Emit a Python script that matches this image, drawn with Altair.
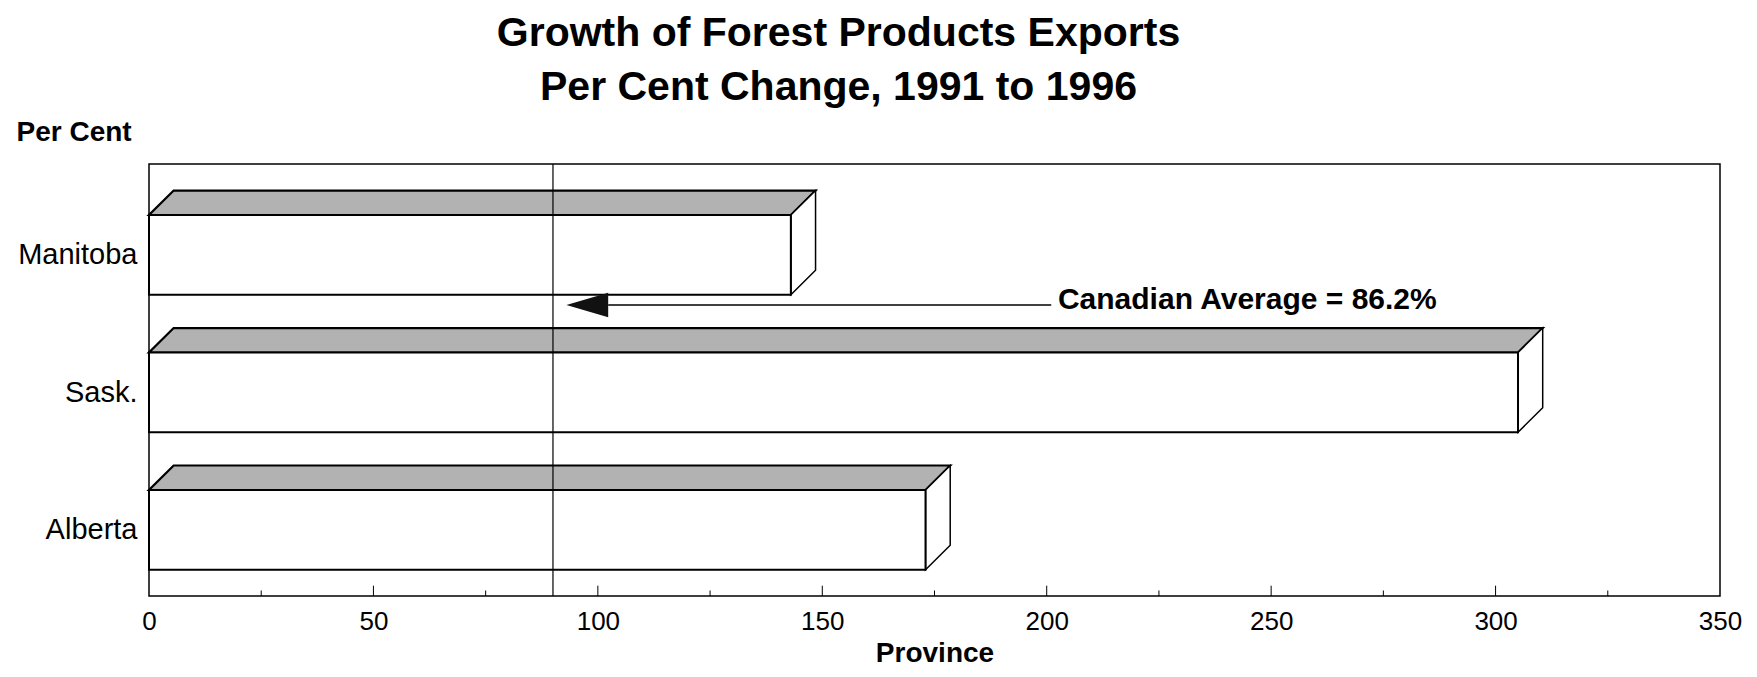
import json
import altair as alt
import pandas as pd

# ---- data ----
provinces = ["Manitoba", "Sask.", "Alberta"]
growth = [143, 305, 173]
tick_values = [0, 50, 100, 150, 200, 250, 300, 350]
minor_ticks = [25, 75, 125, 175, 225, 275, 325]
avg_line = 90
avg_label = "Canadian Average = 86.2%"
arrow_tail = 201
arrow_base = 102.3
arrow_tip = 93

# ---- 3D styling (sizes in scale units) ----
DX = 5.5      # horizontal depth
DY = 0.178    # vertical depth
H = 0.58      # front face height
Y0, Y1 = -0.371, 2.771
ARROW_Y = 0.655
ARROW_HALF = 0.089
TEXT_Y = 0.618

FONT = "Liberation Sans"

front_rows, top_rows, side_rows = [], [], []
for i, (p, v) in enumerate(zip(provinces, growth)):
    front_rows.append(dict(province=p, x=0, x2=v, y=i, y2=i + H))
    top_rows.append(dict(province=p, y=i, x=0, x2=v))
    top_rows.append(dict(province=p, y=i - DY, x=DX, x2=v + DX))
    side_rows.append(dict(province=p, x=v, y=i, y2=i + H))
    side_rows.append(dict(province=p, x=v + DX, y=i - DY, y2=i + H - DY))

front_df = pd.DataFrame(front_rows)
top_df = pd.DataFrame(top_rows)
side_df = pd.DataFrame(side_rows)

xscale = alt.Scale(domain=[0, 350], nice=False, zero=False)
yscale = alt.Scale(domain=[Y0, Y1], nice=False, zero=False, reverse=True)

xaxis = alt.Axis(values=tick_values, grid=False, ticks=False, domain=False,
                 labelFontSize=26, labelFont=FONT, labelColor="black",
                 labelPadding=12, labelFlush=False,
                 titleFontSize=28, titleFont=FONT, titleFontWeight="bold",
                 titleColor="black", titlePadding=5)
yaxis = alt.Axis(values=[i + H / 2 for i in range(len(provinces))],
                 labelExpr=json.dumps(provinces) + "[floor(datum.value)]",
                 grid=False, ticks=False, domain=False,
                 labelFontSize=29, labelFont=FONT, labelColor="black",
                 labelPadding=12,
                 titleAngle=0, titleAlign="left", titleBaseline="middle",
                 titleX=-133, titleY=-32,
                 titleFontSize=28, titleFont=FONT, titleFontWeight="bold",
                 titleColor="black")

X = alt.X("x:Q", scale=xscale, axis=xaxis, title="Province")
Y = alt.Y("y:Q", scale=yscale, axis=yaxis, title="Per Cent")

top = alt.Chart(top_df).mark_area(orient="horizontal", fill="#b2b2b2",
                                  stroke="black", strokeWidth=2.2).encode(
    y=Y, x=X, x2="x2:Q", detail="province:N")

side = alt.Chart(side_df).mark_area(orient="vertical", fill="white",
                                    stroke="black", strokeWidth=1.5).encode(
    x=X, y=Y, y2="y2:Q", detail="province:N")

front = alt.Chart(front_df).mark_rect(fill="white", stroke="black",
                                      strokeWidth=2).encode(
    x=X, x2="x2:Q", y=Y, y2="y2:Q")

avg_df = pd.DataFrame({"x": [avg_line]})
avg = alt.Chart(avg_df).mark_rule(color="black", strokeWidth=1.2).encode(x=X)

arrow_line_df = pd.DataFrame({"x": [arrow_base], "x2": [arrow_tail], "y": [ARROW_Y]})
arrow_line = alt.Chart(arrow_line_df).mark_rule(color="black", strokeWidth=1.5).encode(
    x=X, x2="x2:Q", y=Y)

head_df = pd.DataFrame({"x": [arrow_tip, arrow_base],
                        "y": [ARROW_Y, ARROW_Y - ARROW_HALF],
                        "y2": [ARROW_Y, ARROW_Y + ARROW_HALF]})
head = alt.Chart(head_df).mark_area(orient="vertical", color="#111111").encode(
    x=X, y=Y, y2="y2:Q")

text_df = pd.DataFrame({"x": [arrow_tail + 1.5], "y": [TEXT_Y], "label": [avg_label]})
text = alt.Chart(text_df).mark_text(align="left", baseline="middle", font=FONT,
                                    fontSize=30, fontWeight="bold",
                                    color="black").encode(
    x=X, y=Y, text="label:N")

major_df = pd.DataFrame({"x": tick_values[1:-1], "y": [Y1] * (len(tick_values) - 2),
                         "y2": [Y1 - 0.075] * (len(tick_values) - 2)})
minor_df = pd.DataFrame({"x": minor_ticks, "y": [Y1] * len(minor_ticks),
                         "y2": [Y1 - 0.04] * len(minor_ticks)})
major = alt.Chart(major_df).mark_rule(color="black", strokeWidth=1).encode(
    x=X, y=Y, y2="y2:Q")
minor = alt.Chart(minor_df).mark_rule(color="black", strokeWidth=1).encode(
    x=X, y=Y, y2="y2:Q")

chart = alt.layer(top, side, front, avg, arrow_line, head, text, major, minor).properties(
    width=1571, height=432,
    padding={"left": 141, "top": 156, "right": 28, "bottom": 73},
    autosize=alt.AutoSizeParams(type="none"),
    background="white",
    title=alt.TitleParams(
        text=["Growth of Forest Products Exports", "Per Cent Change, 1991 to 1996"],
        fontSize=41, fontWeight="bold", font=FONT, color="black",
        anchor="middle", dx=-96, offset=9, lineHeight=54),
).configure_view(stroke="black", strokeWidth=1.5)

chart.save("out.html", embed_options={"renderer": "svg", "actions": False})
